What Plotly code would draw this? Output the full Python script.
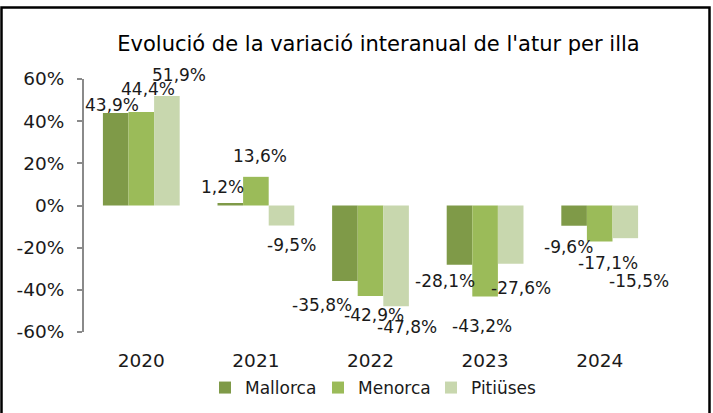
import plotly.graph_objects as go

# ---------------- data ----------------
years = ["2020", "2021", "2022", "2023", "2024"]
series_names = ["Mallorca", "Menorca", "Pitiüses"]
mallorca = [43.9, 1.2, -35.8, -28.1, -9.6]
menorca = [44.4, 13.6, -42.9, -43.2, -17.1]
pitiuses = [51.9, -9.5, -47.8, -27.6, -15.5]
y_tickvals = [-60, -40, -20, 0, 20, 40, 60]
y_ticktext = ["-60%", "-40%", "-20%", "0%", "20%", "40%", "60%"]
title_text = "Evolució de la variació interanual de l'atur per illa"

# ---------------- style ----------------
colors = ["#7F9A48", "#9BBB59", "#C8D7AE"]
FONT = "DejaVu Sans"
TXT = "#1a1a1a"
AXC = "#8a8a8a"
W, H = 713, 413
ML, MR, MT, MB = 84, 56, 79, 81
BARGAP = 0.33
# label offsets (px) relative to bar centre / bar end (style only)
lab_dx = [[-4, -8, -23, -15, -6], [7, 4, 3, -3, 8], [12.5, 10, 11, 10, 14]]
lab_dy = [[7.5, 16, -24.5, -16.5, -21.5], [23, 21, -18.6, -29, -21], [21, -19, -21, -24, -43]]

values = [mallorca, menorca, pitiuses]

fig = go.Figure()
for name, vals, col in zip(series_names, values, colors):
    fig.add_trace(go.Bar(x=years, y=vals, name=name, marker=dict(color=col, line=dict(width=0)),
                         hoverinfo="skip"))

plot_w = W - ML - MR
plot_h = H - MT - MB
cat_px = plot_w / len(years)
bar_px = cat_px * (1 - BARGAP) / len(values)

annotations = []
for i, vals in enumerate(values):
    for j, v in enumerate(vals):
        txt = f"{v:.1f}".replace(".", ",") + "%"
        annotations.append(dict(
            x=j, y=v, xref="x", yref="y", text=txt, showarrow=False,
            xanchor="center", yanchor="middle",
            xshift=(i - 1) * bar_px + lab_dx[i][j], yshift=lab_dy[i][j],
            font=dict(family=FONT, size=17, color=TXT)))

def px2paper_x(px):
    return (px - ML) / plot_w

def px2paper_y(py):
    return (H - MB - py) / plot_h

fig.update_layout(
    width=W, height=H,
    margin=dict(l=ML, r=MR, t=MT, b=MB, pad=0, autoexpand=False),
    paper_bgcolor="white", plot_bgcolor="white",
    font=dict(family=FONT, size=17, color=TXT),
    title=dict(text=title_text, x=378.5 / W, xanchor="center", xref="container",
               y=1 - 44 / H, yanchor="middle", yref="container",
               font=dict(family=FONT, size=21, color="#000000")),
    barmode="group", bargap=BARGAP, bargroupgap=0,
    showlegend=True,
    legend=dict(orientation="h", x=205 / W, xanchor="left", xref="container",
                y=1 - 388 / H, yanchor="middle", yref="container",
                entrywidth=68, entrywidthmode="pixels",
                font=dict(family=FONT, size=17, color=TXT),
                bgcolor="rgba(0,0,0,0)"),
    xaxis=dict(type="category", categoryorder="array", categoryarray=years,
               range=[-0.5, 4.5], showline=False, showgrid=False, zeroline=False,
               ticks="outside", ticklen=12, tickcolor="rgba(0,0,0,0)",
               tickfont=dict(family=FONT, size=18.5, color=TXT), fixedrange=True),
    xaxis2=dict(type="category", categoryorder="array", categoryarray=years,
                range=[-0.5, 4.5], overlaying="x", anchor="free", position=0.5,
                showline=True, linecolor=AXC, linewidth=2,
                ticks="outside", tickson="boundaries", ticklen=6, tickwidth=2,
                tickcolor=AXC, showticklabels=False, showgrid=False, zeroline=False),
    yaxis=dict(range=[-60, 60], tickvals=y_tickvals, ticktext=y_ticktext,
               showline=True, linecolor=AXC, linewidth=2,
               ticks="outside", ticklen=5, tickwidth=2, tickcolor=AXC,
               ticklabelstandoff=9,
               showgrid=False, zeroline=False,
               tickfont=dict(family=FONT, size=18.5, color=TXT), fixedrange=True),
    annotations=annotations,
    shapes=[dict(type="rect", xref="paper", yref="paper",
                 x0=px2paper_x(1.5), x1=px2paper_x(709.5),
                 y0=px2paper_y(425), y1=px2paper_y(7.5),
                 line=dict(color="#000000", width=2.5), fillcolor="rgba(0,0,0,0)",
                 layer="above")],
)

fig.write_html("out.html",
               config={"displayModeBar": False, "staticPlot": True},
               post_script="document.body.style.margin='0';document.body.style.overflow='hidden';")
